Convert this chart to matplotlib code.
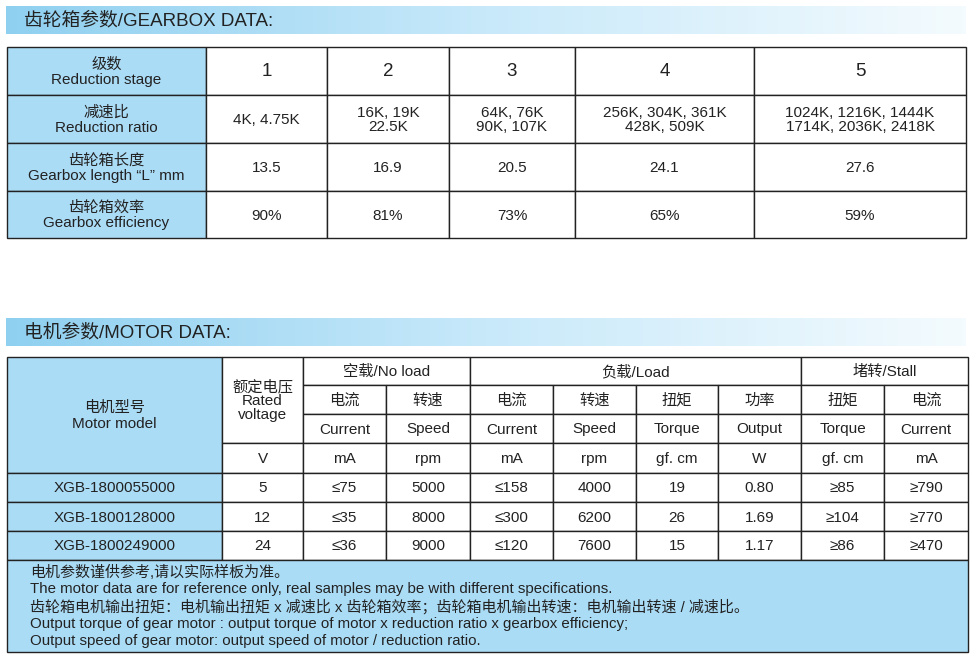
import matplotlib
matplotlib.use("Agg")
import matplotlib.pyplot as plt
import numpy as np
from matplotlib.patches import Rectangle

plt.rcParams['font.family'] = ['Liberation Sans', 'Noto Sans CJK SC', 'DejaVu Sans']

gear_title = "齿轮箱参数/GEARBOX DATA:"
motor_title = "电机参数/MOTOR DATA:"
gear_row_labels = ["级数\nReduction stage", "减速比\nReduction ratio",
                   "齿轮箱长度\nGearbox length “L” mm", "齿轮箱效率\nGearbox efficiency"]
stages = ["1", "2", "3", "4", "5"]
ratios = ["4K, 4.75K", "16K, 19K\n22.5K", "64K, 76K\n90K, 107K",
          "256K, 304K, 361K\n428K, 509K", "1024K, 1216K, 1444K\n1714K, 2036K, 2418K"]
lengths = ["13.5", "16.9", "20.5", "24.1", "27.6"]
efficiency = ["90%", "81%", "73%", "65%", "59%"]

models = ["XGB-1800055000", "XGB-1800128000", "XGB-1800249000"]
voltage = ["5", "12", "24"]
nl_current = ["≤75", "≤35", "≤36"]
nl_speed = ["5000", "8000", "9000"]
ld_current = ["≤158", "≤300", "≤120"]
ld_speed = ["4000", "6200", "7600"]
ld_torque = ["19", "26", "15"]
ld_output = ["0.80", "1.69", "1.17"]
st_torque = ["≥85", "≥104", "≥86"]
st_current = ["≥790", "≥770", "≥470"]
group_heads = ["空载/No load", "负载/Load", "堵转/Stall"]
sub_cn = ["电流", "转速", "电流", "转速", "扭矩", "功率", "扭矩", "电流"]
sub_en = ["Current", "Speed", "Current", "Speed", "Torque", "Output", "Torque", "Current"]
units = ["mA", "rpm", "mA", "rpm", "gf. cm", "W", "gf. cm", "mA"]
notes = ["电机参数谨供参考,请以实际样板为准。",
         "The motor data are for reference only, real samples may be with different specifications.",
         "齿轮箱电机输出扭矩：电机输出扭矩 x 减速比 x 齿轮箱效率；齿轮箱电机输出转速：电机输出转速 / 减速比。",
         "Output torque of gear motor : output torque of motor x reduction ratio x gearbox efficiency;",
         "Output speed of gear motor: output speed of motor / reduction ratio."]

BLUE = "#abdcf6"
LINE = "#222222"
TXT = "#222222"
FS = 11

fig = plt.figure(figsize=(9.77, 6.58), dpi=100)
ax = fig.add_axes([0, 0, 1, 1])
ax.set_xlim(0, 977); ax.set_ylim(658, 0); ax.axis('off')

def title_bar(y0, y1, text):
    grad = np.linspace(0, 1, 256)[None, :]
    cmap = matplotlib.colors.LinearSegmentedColormap.from_list("g", ["#8fd0f0", "#c8e9fa", "#f4fbfe"])
    ax.imshow(grad, extent=(6, 966, y1, y0), cmap=cmap, aspect='auto', zorder=0)
    ax.text(24, (y0 + y1) / 2 + 1, text, fontsize=13.5, va='center', ha='left', color=TXT)

def cell(x0, x1, y0, y1, text="", fc="white", fs=FS, lw=1.0, ls=1.1, weight='normal'):
    ax.add_patch(Rectangle((x0, y0), x1 - x0, y1 - y0, facecolor=fc, edgecolor=LINE, lw=lw, zorder=1))
    if text:
        ax.text((x0 + x1) / 2, (y0 + y1) / 2 + 1, text, fontsize=fs, ha='center', va='center',
                color=TXT, linespacing=ls, zorder=3, fontweight=weight)

# Gearbox table
title_bar(6, 34, gear_title)
gx = [7, 206, 327, 449, 575, 754, 966]
gy = [47, 95, 143, 191, 238]
rows = [stages, ratios, lengths, efficiency]
for r in range(4):
    cell(gx[0], gx[1], gy[r], gy[r + 1], gear_row_labels[r], fc=BLUE, fs=11)
    for c in range(5):
        fs = 13.5 if r == 0 else FS
        cell(gx[c + 1], gx[c + 2], gy[r], gy[r + 1], rows[r][c], fs=fs, ls=1.0)

# Motor table
title_bar(318, 346, motor_title)
mx = [7, 222, 303, 386, 470, 553, 636, 718, 801, 884, 968]
my = [357, 385, 414, 443, 473, 502, 531, 560]
cell(mx[0], mx[1], my[0], my[4], "电机型号\nMotor model", fc=BLUE)
cell(mx[1], mx[2], my[0], my[3], "额定电压\nRated\nvoltage", ls=1.0)
cell(mx[1], mx[2], my[3], my[4], "V")
spans = [(2, 4), (4, 8), (8, 10)]
for (a, b), h in zip(spans, group_heads):
    cell(mx[a], mx[b], my[0], my[1], h)
for i in range(8):
    cell(mx[i + 2], mx[i + 3], my[1], my[2], sub_cn[i])
    cell(mx[i + 2], mx[i + 3], my[2], my[3], sub_en[i])
    cell(mx[i + 2], mx[i + 3], my[3], my[4], units[i])
cols = [voltage, nl_current, nl_speed, ld_current, ld_speed, ld_torque, ld_output, st_torque, st_current]
for r in range(3):
    cell(mx[0], mx[1], my[4 + r], my[5 + r], models[r], fc=BLUE, fs=11)
    for c in range(9):
        cell(mx[c + 1], mx[c + 2], my[4 + r], my[5 + r], cols[c][r])
ax.add_patch(Rectangle((7, 560), 961, 92, facecolor=BLUE, edgecolor=LINE, lw=1.0, zorder=1))
for i, t in enumerate(notes):
    ax.text(30, 572 + i * 17.3, t, fontsize=10.8, ha='left', va='center', color=TXT, zorder=3)

fig.savefig("out.png", dpi=100)
